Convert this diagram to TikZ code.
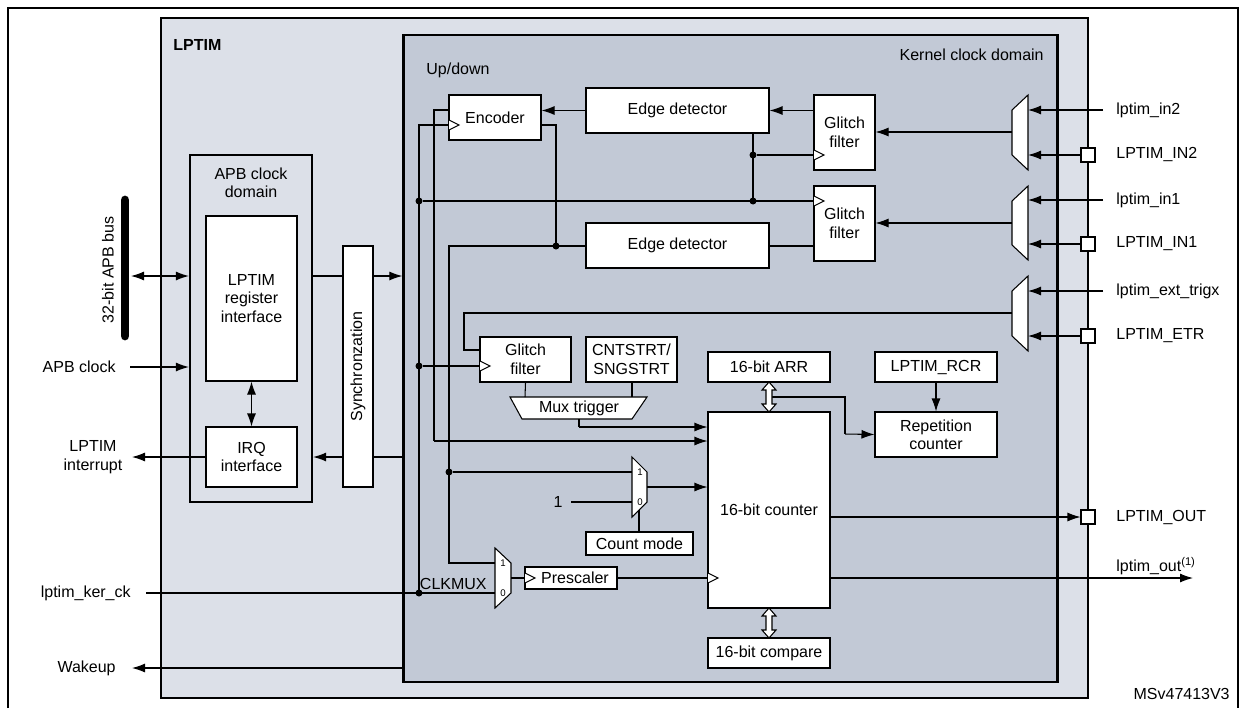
\documentclass[tikz,border=0pt]{standalone}
\usepackage{fontspec}
\setmainfont{Liberation Sans}
\usetikzlibrary{arrows.meta,calc}
\definecolor{lpgray}{HTML}{DCE0E8}
\definecolor{kergray}{HTML}{C2C9D6}
\tikzset{
every picture/.style={
line width=0.6pt
}}
% clock input triangle at a box edge
\newcommand{\clkin}[2]{\draw[fill=white] (#1,#2-5) -- (#1+10,#2) -- (#1,#2+5);}
% hollow double arrow between two y values
\newcommand{\dblarrow}[3]{\draw[fill=white] (#1,#2) -- (#1+7,#2+8) -- (#1+3,#2+8) -- (#1+3,#3-8) -- (#1+7,#3-8) -- (#1,#3) -- (#1-7,#3-8) -- (#1-3,#3-8) -- (#1-3,#2+8) -- (#1-7,#2+8) -- cycle;}

\begin{document}
\begin{tikzpicture}[x=0.2mm, y=-0.2mm, font=\fontsize{9.1}{10.5}\selectfont,
block/.style = {rectangle, draw=black, fill=white, inner sep=0pt, align=center},
clkdomain/.style = {rectangle, draw=black, line width=1.3pt, inner sep=0pt},
pad/.style = {rectangle, draw=black, fill=white, minimum size=2.8mm, inner sep=0pt},
muxbox/.style = {draw=black, fill=white},
arr/.style = {-{Latex[length=2.6mm,width=1.8mm]}},
dblarr/.style = {{Latex[length=2.6mm,width=1.8mm]}-{Latex[length=2.6mm,width=1.8mm]}},
dot/.style = {circle, fill=black, inner sep=0pt, minimum size=1.4mm},
tiny/.style = {font=\fontsize{5.5}{6}\selectfont}]
\useasboundingbox (0,0) rectangle (1242,708);
\draw (8,708) -- (8,8) -- (1238,8) -- (1238,708);

% domains
\node[clkdomain, fill=lpgray, minimum width=185.4mm, minimum height=136mm] at (624.5,358) (lptim) {};
\node[clkdomain, fill=kergray, minimum width=130.8mm, minimum height=129.4mm] at (730.5,358.5) (kernel) {};
\node[anchor=west, font=\fontsize{9.1}{10.5}\selectfont\bfseries] at (167,45) (lptimlbl) {LPTIM};
\node[anchor=east] at (1050,55) (kerlbl) {Kernel clock domain};
\node[anchor=west] at (420,70) (updown) {Up/down};

% APB side
\node[clkdomain, minimum width=24.4mm, minimum height=69.4mm] at (251,328.5) (apb) {};
\node[align=center] at (251,183) (apblbl) {APB clock\\domain};
\node[block, minimum width=18.2mm, minimum height=33mm] at (251.5,298.5) (reg) {LPTIM\\register\\interface};
\node[block, minimum width=18.2mm, minimum height=12mm] at (251.5,457) (irq) {IRQ\\interface};
\node[block, minimum width=6mm, minimum height=48.2mm] at (358,366.5) (sync) {\rotatebox{90}{Synchronzation}};
\draw[line width=5pt, line cap=round] (125,200) -- (125,336);
\node[rotate=90] at (108,270) (buslbl) {32-bit APB bus};
\coordinate (bus) at (131,276);

\draw[dblarr] (bus) -- (apb.west |- bus);
\node[anchor=east] at (122,367) (apbck) {APB clock};
\draw[arr] (apbck.east) ++(8,0) -- (apb.west |- apbck);
\draw[dblarr] (reg.south) -- (irq.north);
\node[align=center] at (93,457) (irqlbl) {LPTIM\\interrupt};
\draw[arr] (irq.west) -- (132,457);
\draw (apb.east |- bus) -- (sync.west |- bus);
\draw[arr] (sync.east |- bus) -- (kernel.west |- bus);
\draw[arr] (sync.west |- irq) -- (apb.east |- irq);
\draw (kernel.west |- irq) -- (sync.east |- irq);
\node[anchor=east] at (137,593) (kerck) {lptim\_ker\_ck};
\node[anchor=east] at (122,668) (wakeup) {Wakeup};
\draw[arr] (kernel.west |- wakeup) -- (132,668);

% kernel blocks
\node[block, minimum width=18.4mm, minimum height=9mm] at (495,117.5) (enc) {Encoder};
\node[block, minimum width=36.6mm, minimum height=9mm] at (677.5,110.5) (ed1) {Edge detector};
\node[block, minimum width=36.6mm, minimum height=9mm] at (677.5,245.5) (ed2) {Edge detector};
\node[block, minimum width=12.2mm, minimum height=15mm] at (844.5,132.5) (gf1) {Glitch\\filter};
\node[block, minimum width=12.2mm, minimum height=15mm] at (844.5,223.5) (gf2) {Glitch\\filter};
\node[block, minimum width=18.2mm, minimum height=9mm] at (525.5,359.5) (gf3) {Glitch\\filter};
\node[block, minimum width=18.2mm, minimum height=9mm] at (631.5,359.5) (cnts) {CNTSTRT/\\SNGSTRT};
\node[block, minimum width=24.4mm, minimum height=6mm] at (769,367) (arrreg) {16-bit ARR};
\node[block, minimum width=24.4mm, minimum height=6mm] at (936,367) (rcr) {LPTIM\_RCR};
\node[block, minimum width=24.4mm, minimum height=9mm] at (936,434.5) (rep) {Repetition\\counter};
\node[block, minimum width=24.4mm, minimum height=39.2mm] at (769,510) (cnt) {16-bit counter};
\node[block, minimum width=24.4mm, minimum height=6mm] at (769,653) (cmp) {16-bit compare};
\node[block, minimum width=21.4mm, minimum height=4.6mm] at (639.5,543.5) (cmode) {Count mode};
\node[block, minimum width=18.4mm, minimum height=4.4mm] at (571,578) (presc) {\hspace{1.6mm}Prescaler};

% muxes
\draw[muxbox] (1028,95) -- (1028,170) -- (1012,155) -- (1012,110) -- cycle;
\draw[muxbox] (1028,186) -- (1028,260) -- (1012,245) -- (1012,201) -- cycle;
\draw[muxbox] (1028,276) -- (1028,351) -- (1012,336) -- (1012,291) -- cycle;
\draw[muxbox] (510,397) -- (647,397) -- (632,419) -- (522,419) -- cycle;
\node at (579,408) (muxtrg) {Mux trigger};
\draw[muxbox] (632,457) -- (647,472) -- (647,502) -- (632,517) -- cycle;
\node[tiny] at (640,472) {1};
\node[tiny] at (640,502) {0};
\draw[muxbox] (495,548) -- (511,563) -- (511,593) -- (495,608) -- cycle;
\node[tiny] at (503,563) {1};
\node[tiny] at (503,593) {0};
\node[anchor=east] at (493,584) (clkmux) {CLKMUX};
\coordinate (mux1) at (1012,132);
\coordinate (mux2) at (1012,223);
\coordinate (mux3) at (1012,313);

% pins
\node[pad] at (1088,155) (in2) {};
\node[pad] at (1088,244) (in1) {};
\node[pad] at (1088,336) (etr) {};
\node[pad] at (1088,517) (out) {};
\node[anchor=west] at (1110,110) (lin2) {lptim\_in2};
\node[anchor=west] at (1110,155) (lIN2) {LPTIM\_IN2};
\node[anchor=west] at (1110,200) (lin1) {lptim\_in1};
\node[anchor=west] at (1110,244) (lIN1) {LPTIM\_IN1};
\node[anchor=west] at (1110,291) (lext) {lptim\_ext\_trigx};
\node[anchor=west] at (1110,336) (lETR) {LPTIM\_ETR};
\node[anchor=west] at (1110,517) (lOUT) {LPTIM\_OUT};
\node[anchor=west] at (1110,566) (lout) {lptim\_out\textsuperscript{(1)}};
\node[anchor=east] at (1236,694) (ref) {MSv47413V3};

\draw[arr] (1103,110) -- (1028,110);
\draw[arr] (in2.west) -- (1028,155);
\draw[arr] (1103,200) -- (1028,200);
\draw[arr] (in1.west) -- (1028,244);
\draw[arr] (1103,291) -- (1028,291);
\draw[arr] (etr.west) -- (1028,336);
\draw[arr] (mux1) -- (gf1.east |- mux1);
\draw[arr] (mux2) -- (gf2.east |- mux2);
\draw (mux3) -- (464,313) -- (464,350) -- (gf3.west |- 0,350);

% edge detectors and encoder
\draw[arr] (gf1.west |- ed1) -- (ed1.east);
\draw[arr] (ed1.west) -- (enc.east |- ed1);
\draw (gf2.west |- 0,246) -- (ed2.east |- 0,246);
\draw (enc.east |- 0,125) -- (556,125) -- (556,246);
\node[dot] at (556,246) (d1) {};
\draw (ed2.west |- 0,246) -- (449,246) -- (449,563) -- (495,563);
\node[dot] at (449,472) (d2) {};
\draw (d2) -- (632,472);
\draw (enc.west |- 0,110) -- (434,110) -- (434,441);
\draw[arr] (434,441) -- (cnt.west |- 0,441);

% kernel clock tree
\draw (enc.west |- 0,125) -- (419,125) -- (419,593);
\draw (kerck.east) ++(9,0) -- (495,593);
\node[dot] at (419,593) (d3) {};
\node[dot] at (419,366) (d4) {};
\node[dot] at (419,201) (d5) {};
\draw (d4) -- (gf3.west |- d4);
\draw (d5) -- (gf2.west |- d5);
\draw (ed1.south -| 753,0) -- (753,201);
\node[dot] at (753,201) (d6) {};
\node[dot] at (753,155) (d7) {};
\draw (d7) -- (gf1.west |- d7);
\clkin{449}{125}
\clkin{814}{155}
\clkin{814}{201}
\clkin{480}{366}

% counter section
\draw (gf3.south) -- (525,397);
\draw (cnts.south -| 632,0) -- (632,397);
\draw (579,419) -- (579,427);
\draw[arr] (579,427) -- (cnt.west |- 0,427);
\node[anchor=east] at (569,502) (one) {1};
\draw (571,502) -- (632,502);
\draw[arr] (647,487) -- (cnt.west |- 0,487);
\draw (639,510) -- (cmode.north -| 639,0);
\draw (511,578) -- (presc.west);
\draw (presc.east) -- (cnt.west |- presc);
\clkin{525}{578}
\clkin{708}{578}
\draw (772,397) -- (845,397) -- (845,434);
\draw[arr] (845,434) -- (rep.west);
\draw[arr] (rcr.south) -- (rep.north);
\dblarrow{769}{382}{412}
\dblarrow{769}{608}{638}
\draw[arr] (cnt.east |- out) -- (out.west);
\draw[arr] (cnt.east |- 0,578) -- (1193,578);
\end{tikzpicture}
\end{document}
